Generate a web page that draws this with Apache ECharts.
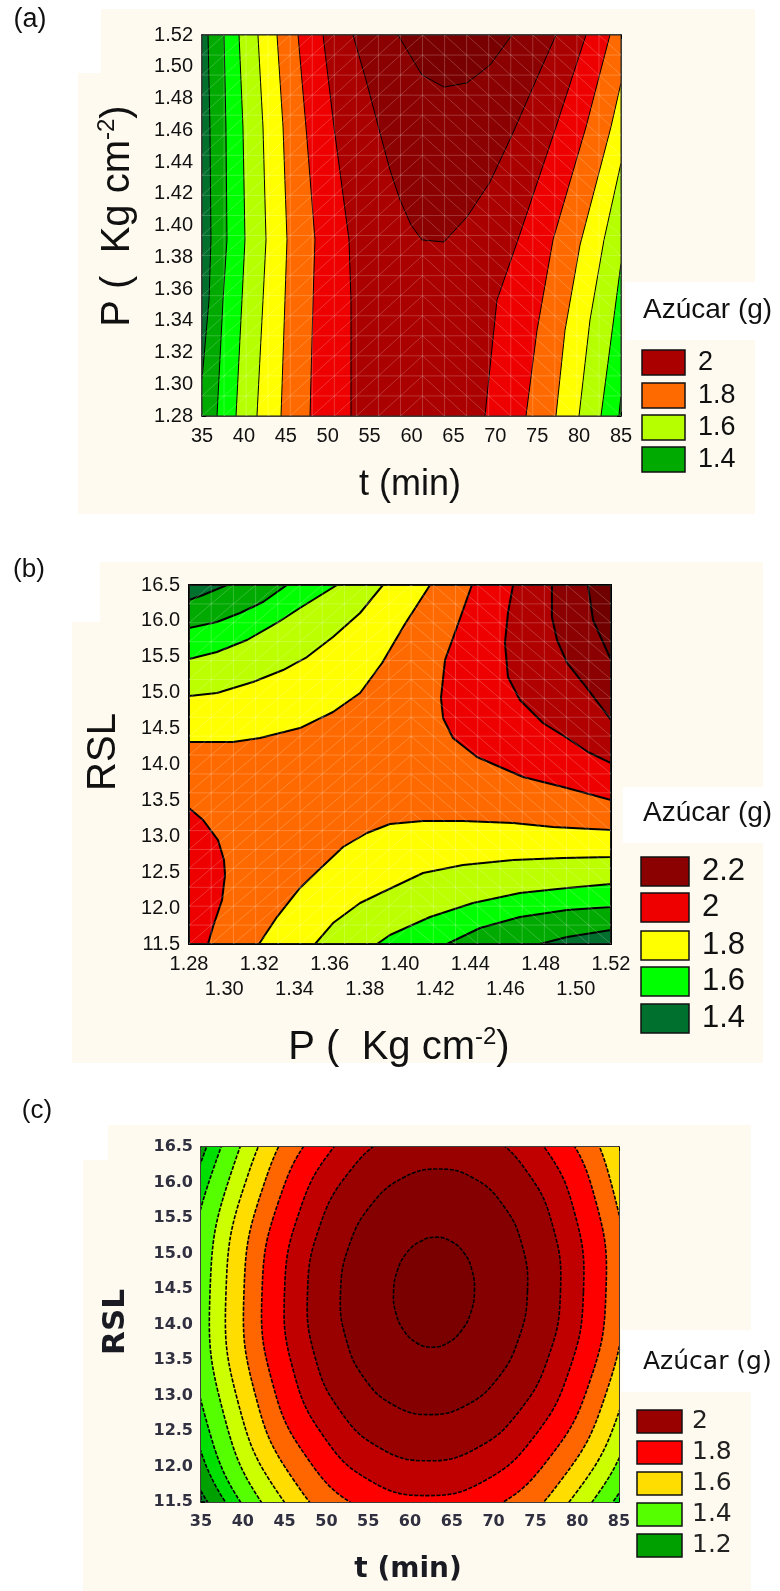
<!DOCTYPE html>
<html><head><meta charset="utf-8">
<script src="https://cdn.jsdelivr.net/npm/echarts@6/dist/echarts.min.js"></script>
<style>html,body{margin:0;padding:0;background:#fff}#main{width:780px;height:1591px}</style>
</head><body><div id="main"></div><script>
// ================= DATA =================
// ---- Panel (a): t (min) vs P (Kg cm-2) ----
const aXTicks = [35,40,45,50,55,60,65,70,75,80,85];
const aYTicks = [1.28,1.30,1.32,1.34,1.36,1.38,1.40,1.42,1.44,1.46,1.48,1.50,1.52];
// contour lines, points [t, P]
const aL1  = [[35.72,1.52],[35.95,1.462],[36.07,1.391],[35.84,1.353],[35.0,1.303]];
const aL2  = [[37.63,1.52],[37.86,1.462],[37.98,1.391],[37.51,1.353],[36.79,1.28]];
const aL3  = [[39.42,1.52],[39.89,1.462],[40.13,1.391],[39.77,1.353],[39.06,1.28]];
const aL4  = [[41.68,1.52],[42.28,1.462],[42.64,1.391],[42.28,1.353],[41.56,1.28]];
const aL5  = [[43.95,1.52],[44.67,1.462],[45.14,1.391],[44.90,1.353],[44.43,1.28]];
const aL6  = [[46.46,1.52],[47.41,1.462],[48.48,1.391],[48.25,1.353],[47.89,1.28]];
const aL7  = [[49.44,1.52],[50.75,1.462],[52.54,1.391],[52.78,1.353],[52.78,1.28]];
const aL8  = [[80.82,1.52],[77.24,1.462],[72.71,1.391],[70.20,1.353],[68.77,1.28]];
const aL9  = [[83.68,1.52],[80.82,1.462],[76.89,1.391],[74.98,1.334],[73.66,1.28]];
const aL10 = [[85,1.4898],[83.80,1.462],[80.11,1.3877],[78.32,1.334],[77.24,1.28]];
const aL11 = [[85,1.4394],[82.97,1.391],[81.30,1.3405],[79.99,1.28]];
const aL12 = [[85,1.3764],[83.8,1.3279],[82.61,1.28]];
const aL13 = [[85,1.2932],[84.75,1.28]];
const aL14 = [[53.02,1.52],[54.57,1.4917],[56.24,1.4583],[57.43,1.435],[58.63,1.4161],[59.94,1.4003],[61.25,1.3909],[63.88,1.3896],[66.62,1.4054],[69.37,1.4274],[72.11,1.4583],[74.50,1.4872],[77.24,1.52]];
const aL15 = [[58.39,1.52],[61.25,1.4948],[63.88,1.4872],[66.62,1.4898],[69.37,1.5011],[71.99,1.52]];
const aLegendLabels = ['2','1.8','1.6','1.4'];

// ---- Panel (b): P (Kg cm-2) vs RSL ----
const bXTicks = [1.28,1.30,1.32,1.34,1.36,1.38,1.40,1.42,1.44,1.46,1.48,1.50,1.52];
const bYTicks = [11.5,12.0,12.5,13.0,13.5,14.0,14.5,15.0,15.5,16.0,16.5];
const bLA = [[1.28,16.291],[1.288,16.361],[1.3016,16.5]];
const bLB = [[1.28,15.901],[1.2959,15.985],[1.309,16.11],[1.3221,16.263],[1.3357,16.5]];
const bLC = [[1.28,15.469],[1.2959,15.567],[1.313,15.734],[1.33,15.971],[1.3431,16.18],[1.3642,16.5]];
const bLD = [[1.28,14.954],[1.2959,14.996],[1.3164,15.149],[1.3335,15.316],[1.3471,15.497],[1.3619,15.776],[1.3773,16.11],[1.3903,16.5]];
const bLE = [[1.28,14.313],[1.305,14.313],[1.3204,14.369],[1.3431,14.508],[1.3619,14.731],[1.3773,14.996],[1.3898,15.414],[1.4028,15.957],[1.4171,16.5]];
const bLF = [[1.4409,16.5],[1.4324,15.915],[1.4256,15.455],[1.4233,14.926],[1.4245,14.648],[1.4301,14.369],[1.4438,14.104],[1.4569,13.965],[1.47,13.826],[1.495,13.673],[1.52,13.506]];
const bLG = [[1.4643,16.5],[1.4614,16.11],[1.4597,15.692],[1.4614,15.219],[1.4682,14.898],[1.4813,14.578],[1.495,14.369],[1.5069,14.174],[1.52,14.02]];
const bLH = [[1.4864,16.5],[1.4864,16.054],[1.4893,15.734],[1.495,15.414],[1.5041,15.135],[1.52,14.62]];
const bLI = [[1.5069,16.5],[1.5098,16.013],[1.52,15.455]];
const bLBlob = [[1.28,13.394],[1.288,13.227],[1.2965,12.948],[1.2999,12.67],[1.3005,12.461],[1.2988,12.113],[1.2936,11.737],[1.2908,11.5]];
const bLJ = [[1.3198,11.5],[1.33,11.876],[1.3431,12.28],[1.3556,12.572],[1.3676,12.851],[1.3812,13.046],[1.3943,13.171],[1.4131,13.213],[1.4358,13.213],[1.4643,13.185],[1.487,13.13],[1.52,13.088]];
const bLK = [[1.3517,11.5],[1.3619,11.792],[1.3773,12.071],[1.3915,12.238],[1.4131,12.489],[1.4358,12.6],[1.4643,12.67],[1.4927,12.698],[1.52,12.712]];
const bLL = [[1.3869,11.5],[1.3943,11.625],[1.4171,11.876],[1.4415,12.071],[1.4682,12.21],[1.495,12.28],[1.52,12.336]];
const bLM = [[1.4267,11.5],[1.4455,11.723],[1.4682,11.876],[1.495,11.974],[1.52,12.015]];
const bLN = [[1.4796,11.5],[1.495,11.597],[1.52,11.695]];
const bLegendLabels = ['2.2','2','1.8','1.6','1.4'];

// ---- Panel (c): t (min) vs RSL ----
const cXTicks = [35,40,45,50,55,60,65,70,75,80,85];
const cYTicks = [11.5,12.0,12.5,13.0,13.5,14.0,14.5,15.0,15.5,16.0,16.5];
// closed contour rings [t, RSL], outermost first
const cR11 = [[95.77,14.46],[93.82,16.31],[87.14,17.87],[76.80,18.92],[64.31,19.29],[51.60,18.92],[40.62,17.87],[33.02,16.31],[29.97,14.46],[31.92,12.61],[38.60,11.04],[48.95,10.00],[61.44,9.63],[74.15,10.00],[85.12,11.04],[92.72,12.61]];
const cR10 = [[93.73,14.46],[91.91,16.25],[85.68,17.77],[75.98,18.79],[64.26,19.15],[52.34,18.79],[42.04,17.77],[34.89,16.25],[32.01,14.46],[33.83,12.66],[40.07,11.14],[49.76,10.12],[61.48,9.77],[73.40,10.12],[83.71,11.14],[90.85,12.66]];
const cR9 = [[91.94,14.46],[90.25,16.21],[84.38,17.69],[75.26,18.69],[64.23,19.04],[53.00,18.69],[43.28,17.69],[36.53,16.21],[33.80,14.46],[35.49,12.71],[41.36,11.22],[50.48,10.23],[61.51,9.88],[72.74,10.23],[82.46,11.22],[89.21,12.71]];
const cR8 = [[89.66,14.46],[88.12,16.14],[82.73,17.56],[74.33,18.51],[64.17,18.84],[53.81,18.51],[44.85,17.56],[38.62,16.14],[36.08,14.46],[37.62,12.78],[43.01,11.36],[51.41,10.41],[61.57,10.08],[71.93,10.41],[80.89,11.36],[87.12,12.78]];
const cR7 = [[87.75,14.46],[86.32,16.01],[81.31,17.33],[73.51,18.21],[64.08,18.51],[54.45,18.21],[46.13,17.33],[40.34,16.01],[37.99,14.46],[39.42,12.91],[44.43,11.59],[52.23,10.71],[61.67,10.40],[71.29,10.71],[79.61,11.59],[85.40,12.91]];
const cR6 = [[85.60,14.46],[84.29,15.89],[79.72,17.10],[72.60,17.91],[63.98,18.19],[55.19,17.91],[47.58,17.10],[42.29,15.89],[40.14,14.46],[41.45,13.03],[46.02,11.82],[53.14,11.01],[61.76,10.73],[70.55,11.01],[78.16,11.82],[83.45,13.03]];
const cR5 = [[83.44,14.46],[82.26,15.72],[78.10,16.79],[71.65,17.50],[63.85,17.75],[55.90,17.50],[49.02,16.79],[44.24,15.72],[42.30,14.46],[43.49,13.20],[47.64,12.13],[54.09,11.41],[61.89,11.16],[69.84,11.41],[76.72,12.13],[81.51,13.20]];
const cR4 = [[80.75,14.46],[79.72,15.56],[76.11,16.49],[70.51,17.11],[63.72,17.33],[56.81,17.11],[50.83,16.49],[46.68,15.56],[44.99,14.46],[46.02,13.36],[49.63,12.43],[55.23,11.80],[62.02,11.59],[68.93,11.80],[74.91,12.43],[79.06,13.36]];
const cR3 = [[78.00,14.46],[77.12,15.37],[74.07,16.14],[69.32,16.66],[63.58,16.84],[57.73,16.66],[52.67,16.14],[49.16,15.37],[47.74,14.46],[48.62,13.55],[51.67,12.78],[56.42,12.26],[62.16,12.08],[68.01,12.26],[73.07,12.78],[76.58,13.55]];
const cR2 = [[74.05,14.46],[73.40,15.12],[71.14,15.68],[67.63,16.06],[63.38,16.19],[59.06,16.06],[55.33,15.68],[52.74,15.12],[51.69,14.46],[52.34,13.80],[54.60,13.23],[58.11,12.86],[62.36,12.73],[66.68,12.86],[70.41,13.23],[73.00,13.80]];
const cR1 = [[67.71,14.46],[67.43,14.76],[66.46,15.01],[64.94,15.17],[63.10,15.23],[61.23,15.17],[59.61,15.01],[58.49,14.76],[58.03,14.46],[58.31,14.16],[59.29,13.91],[60.80,13.74],[62.64,13.68],[64.51,13.74],[66.13,13.91],[67.25,14.16]];
const cLegendLabels = ['2','1.8','1.6','1.4','1.2'];

// ================= BUILD =================
const FONT = "'Liberation Sans', Arial, sans-serif";
const FONTC = "'DejaVu Sans', sans-serif";
const rev = a => a.slice().reverse();

const aX0=aXTicks[0], aX1=aXTicks[aXTicks.length-1], aY0=aYTicks[0], aY1=aYTicks[aYTicks.length-1];
const bX0=bXTicks[0], bX1=bXTicks[bXTicks.length-1], bY0=bYTicks[0], bY1=bYTicks[bYTicks.length-1];
const cX0=cXTicks[0], cX1=cXTicks[cXTicks.length-1], cY0=cYTicks[0], cY1=cYTicks[cYTicks.length-1];

const aRegions = [
  [[aX0,aY0],[aX1,aY0],[aX1,aY1],[aX0,aY1]],
  [...aL1,[aX0,aY0],[aX1,aY0],[aX1,aY1]],
  [...aL2,...rev(aL13),[aX1,aY1]],
  [...aL3,...rev(aL12),[aX1,aY1]],
  [...aL4,...rev(aL11),[aX1,aY1]],
  [...aL5,...rev(aL10),[aX1,aY1]],
  [...aL6,...rev(aL9)],
  [...aL7,...rev(aL8)],
  aL14, aL15
];
const aColors = ['#00702C','#00AA00','#00FF00','#B5FF00','#FFFF00','#FF6A00','#EE0000','#AA0000','#8B0000','#790000'];
const aLegendColors = ['#AA0000','#FF6A00','#B5FF00','#00AA00'];

const bRegions = [
  [[bX0,bY0],[bX1,bY0],[bX1,bY1],[bX0,bY1]],
  [...bLA,[bX1,bY1],...rev(bLN),[bX0,bY0]],
  [...bLB,[bX1,bY1],...rev(bLM),[bX0,bY0]],
  [...bLC,[bX1,bY1],...rev(bLL),[bX0,bY0]],
  [...bLD,[bX1,bY1],...rev(bLK),[bX0,bY0]],
  [...bLE,[bX1,bY1],...rev(bLJ),[bX0,bY0]],
  [...bLF,[bX1,bY1]],
  [...bLBlob,[bX0,bY0]],
  [...bLG,[bX1,bY1]],
  [...bLH,[bX1,bY1]],
  [...bLI,[bX1,bY1]]
];
const bColors = ['#00702E','#00AA00','#00FF00','#BBFF00','#FFFF00','#FF6A00','#EE0000','#EE0000','#B00000','#8B0000','#700000'];
const bLegendColors = ['#8B0000','#EE0000','#FFFF00','#00FF00','#00702E'];

const cRegions = [
  [[cX0,cY0],[cX1,cY0],[cX1,cY1],[cX0,cY1]],
  cR11,cR10,cR9,cR8,cR7,cR6,cR5,cR4,cR3,cR2,cR1
];
const cColors = ['#007A1E','#00A000','#00E000','#55FF00','#CCFF00','#FFDD00','#FF6600','#FF0000','#C00000','#990000','#850000','#7A0000'];
const cLegendColors = ['#990000','#FF0000','#FFDD00','#55FF00','#00A000'];

function regionSeries(gi, regions, colors, lw, dash, smoothRings){
  return {
    type:'custom', xAxisIndex: gi*2, yAxisIndex: gi*2, clip:true, silent:true, z:2,
    data: regions.map((r,i)=>[i]),
    renderItem: function(params, api){
      const i = params.dataIndex;
      const pts = regions[i].map(p => api.coord(p));
      const sm = (smoothRings && i>0) ? 0.45 : 0;
      return {type:'polygon', shape:{points:pts, smooth:sm},
        style:{fill:colors[i], stroke:'#000', lineWidth:lw, lineDash:dash||null, lineJoin:'round'}};
    }
  };
}
function meshSeries(gi, xr, yr, n, splitCol){
  return {
    type:'custom', xAxisIndex: gi*2, yAxisIndex: gi*2, clip:true, silent:true, z:3,
    data:[[0]],
    renderItem: function(params, api){
      const ch=[]; const st={stroke:'rgba(255,255,255,0.26)', lineWidth:0.8};
      const dx=(xr[1]-xr[0])/n, dy=(yr[1]-yr[0])/n;
      const L=(p,q)=>ch.push({type:'line',shape:{x1:p[0],y1:p[1],x2:q[0],y2:q[1]},style:st});
      for(let i=0;i<=n;i++){
        L(api.coord([xr[0]+i*dx,yr[0]]), api.coord([xr[0]+i*dx,yr[1]]));
        L(api.coord([xr[0],yr[0]+i*dy]), api.coord([xr[1],yr[0]+i*dy]));
      }
      for(let i=0;i<n;i++) for(let j=0;j<n;j++){
        const x0=xr[0]+i*dx, x1=x0+dx, y0=yr[0]+j*dy, y1=y0+dy;
        if(i<splitCol) L(api.coord([x0,y0]),api.coord([x1,y1]));
        else L(api.coord([x0,y1]),api.coord([x1,y0]));
      }
      return {type:'group', children:ch};
    }
  };
}
function axis(gi, ticks, pos, lw, label, minorSplit){
  return {
    type:'value', gridIndex:gi, position:pos, min:ticks[0], max:ticks[ticks.length-1],
    interval:+(ticks[1]-ticks[0]).toFixed(6),
    axisLine:{show:true, onZero:false, lineStyle:{color:'#000', width:lw}},
    axisTick:{show:true, inside:true, length:4, lineStyle:{color:'#000', width:1}},
    minorTick:{show:true, splitNumber:minorSplit, length:2.5, lineStyle:{color:'#000', width:1}},
    splitLine:{show:false}, minorSplitLine:{show:false},
    axisLabel: label ? Object.assign({show:true, showMinLabel:true, showMaxLabel:true, hideOverlap:false}, label) : {show:false}
  };
}
const lblA = {fontFamily:FONT, fontSize:20, color:'#111'};
const lblC = {fontFamily:FONTC, fontSize:16, fontWeight:'bold', color:'#303040'};

// second row of labels for panel (b) x axis (odd ticks), on a label-only axis
const bXRow2 = {
  type:'value', gridIndex:1, position:'bottom', min:bX0, max:bX1, interval:+(bXTicks[1]-bXTicks[0]).toFixed(6),
  axisLine:{show:false, onZero:false}, axisTick:{show:false}, minorTick:{show:false}, splitLine:{show:false},
  axisLabel:Object.assign({show:true, showMinLabel:true, showMaxLabel:true, hideOverlap:false, margin:35,
    formatter:(v,i)=> i%2===1 ? Number(v).toFixed(2) : ''}, lblA)
};

const xAxes = [
  axis(0,aXTicks,'bottom',1.5,Object.assign({margin:10, formatter:v=>String(v)},lblA),5),
  axis(0,aXTicks,'top',1.5,null,5),
  axis(1,bXTicks,'bottom',2,Object.assign({margin:10, formatter:(v,i)=> i%2===0 ? Number(v).toFixed(2) : ''},lblA),4),
  axis(1,bXTicks,'top',2,null,4),
  axis(2,cXTicks,'bottom',1.5,Object.assign({margin:12, formatter:v=>String(v)},lblC),5),
  axis(2,cXTicks,'top',1.5,null,5),
  bXRow2
];
const yAxes = [
  axis(0,aYTicks,'left',1.5,Object.assign({margin:9, formatter:v=>Number(v).toFixed(2)},lblA),2),
  axis(0,aYTicks,'right',1.5,null,2),
  axis(1,bYTicks,'left',2,Object.assign({margin:9, formatter:v=>Number(v).toFixed(1)},lblA),5),
  axis(1,bYTicks,'right',2,null,5),
  axis(2,cYTicks,'left',1.5,Object.assign({margin:8, formatter:v=>Number(v).toFixed(1)},lblC),5),
  axis(2,cYTicks,'right',1.5,null,5)
];

// ----- graphics: backgrounds, titles, legends -----
const CREAM = '#FEFAF0';
const g = [];
function rect(x,y,w,h){ g.push({type:'rect', z:-10, silent:true, shape:{x,y,width:w,height:h}, style:{fill:CREAM}}); }
rect(101,9,654,64); rect(78,73,677,209); rect(78,282,547,58); rect(78,340,677,174);
rect(100,562,663,60); rect(72,622,691,165); rect(72,787,551,56); rect(72,843,691,220);
rect(108,1125,643,35); rect(83,1160,668,170); rect(83,1330,538,62); rect(83,1392,668,199);

function txt(x,y,text,font,opts){
  g.push(Object.assign({type:'text', z:50, silent:true, x, y,
    style:Object.assign({text, font, fill:'#111', align:'center', verticalAlign:'middle'}, (opts&&opts.style)||{})},
    (opts&&opts.rot)?{rotation:opts.rot}:{}));
}
txt(30,20,'(a)','27px '+FONT);
txt(29,570,'(b)','26px '+FONT);
txt(37,1111,'(c)','26px '+FONT);

// axis titles
const supTitle = {text:'{m|P (  Kg cm}{s|-2}{m|)}', rich:{m:{fontFamily:FONT, fontSize:40, lineHeight:46, fill:'#111', verticalAlign:'middle'}, s:{fontFamily:FONT, fontSize:24, lineHeight:24, fill:'#111', verticalAlign:'top'}}};
g.push({type:'text', z:50, silent:true, x:118, y:216, rotation:Math.PI/2, style:Object.assign({align:'center', verticalAlign:'middle'}, supTitle)});
txt(410,485,'t (min)','36px '+FONT);
txt(104,752,'RSL','40px '+FONT,{rot:Math.PI/2});
g.push({type:'text', z:50, silent:true, x:399, y:1048, style:Object.assign({align:'center', verticalAlign:'middle'}, supTitle)});
txt(116,1322,'RSL','bold 31px '+FONTC,{rot:Math.PI/2, style:{fill:'#1a1a22'}});
txt(408,1570,'t (min)','bold 28px '+FONTC,{style:{fill:'#1a1a22'}});

function legend(titleX,titleY,titleFont,boxX,boxW,boxH,tops,labels,colors,labX,labFont,labFill){
  g.push({type:'text', z:50, silent:true, x:titleX, y:titleY, style:{text:'Azúcar (g)', font:titleFont, fill:'#111', align:'left', verticalAlign:'middle'}});
  tops.forEach((t,i)=>{
    g.push({type:'rect', z:50, silent:true, shape:{x:boxX,y:t,width:boxW,height:boxH}, style:{fill:colors[i], stroke:'#111', lineWidth:1.5}});
    g.push({type:'text', z:50, silent:true, x:labX, y:t+boxH/2, style:{text:labels[i], font:labFont, fill:labFill, align:'left', verticalAlign:'middle'}});
  });
}
legend(643,310,'28px '+FONT,642,43,25,[350,383,415,447],aLegendLabels,aLegendColors,698,'27px '+FONT,'#111');
legend(643,813,'28px '+FONT,641,48,29,[857,893,931,967,1004],bLegendLabels,bLegendColors,702,'31px '+FONT,'#111');
legend(643,1362,'25px '+FONTC,637,45,23,[1410,1441,1472,1503,1534],cLegendLabels,cLegendColors,692,'25px '+FONTC,'#222');

const chart = echarts.init(document.getElementById('main'), null, {renderer:'canvas', width:780, height:1591});
chart.setOption({
  backgroundColor:'#ffffff',
  animation:false,
  grid:[
    {left:202, top:35, width:419, height:381, containLabel:false},
    {left:189, top:585, width:422, height:359, containLabel:false},
    {left:201, top:1147, width:418, height:355, containLabel:false}
  ],
  xAxis:xAxes, yAxis:yAxes,
  series:[
    regionSeries(0,aRegions,aColors,1,null,false),
    meshSeries(0,[aX0,aX1],[aY0,aY1],19,10),
    regionSeries(1,bRegions,bColors,2,null,false),
    meshSeries(1,[bX0,bX1],[bY0,bY1],19,10),
    regionSeries(2,cRegions,cColors,1.6,[4,1.5],true)
  ],
  graphic:{elements:g}
});
</script></body></html>
